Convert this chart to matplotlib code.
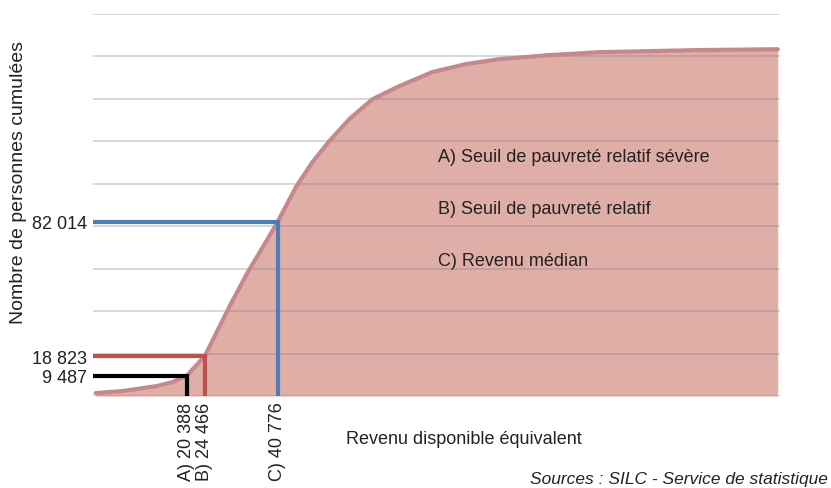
import matplotlib
matplotlib.use("Agg")
import matplotlib.pyplot as plt

plt.rcParams['font.family'] = ['Liberation Sans', 'DejaVu Sans']

# Data
income = [0, 6140, 13740, 17310, 19550, 20388, 24466, 27140, 30050, 34000, 38540,
          40776, 45010, 48580, 52390, 56860, 62000, 68030, 75400, 83000,
          90370, 101500, 112700, 135100, 152900]
persons = [1400, 2350, 4710, 6590, 8950, 9487, 18823, 30140, 42400, 58000, 73950,
           82014, 98900, 110200, 120100, 130500, 139800, 146000, 152600, 156400,
           158700, 160600, 162000, 163000, 163400]

thresholds_x = [20388, 24466, 40776]
thresholds_y = [9487, 18823, 82014]
threshold_labels_x = ["A) 20 388", "B) 24 466", "C) 40 776"]
threshold_labels_y = ["9 487", "18 823", "82 014"]
threshold_colors = ["#000000", "#c0504d", "#4a7ebb"]
legend_texts = ["A) Seuil de pauvreté relatif sévère",
                "B) Seuil de pauvreté relatif",
                "C) Revenu médian"]
grid_values = list(range(0, 180001, 20000))

fig = plt.figure(figsize=(8.31, 4.89), dpi=100)
ax = fig.add_axes([93/831, 1-397/489, (780-93)/831, (397-15)/489])

ax.set_xlim(-600, 153400)
ax.set_ylim(0, 180000)

ax.fill_between(income, 0, persons, color="#dfafa7", zorder=1, linewidth=0)
for g in grid_values:
    ax.axhline(g, color=(0.45, 0.45, 0.45), alpha=0.35, linewidth=1.1, zorder=2)
ax.plot(income, persons, color="#c8878a", linewidth=3, zorder=3,
        solid_capstyle='round', solid_joinstyle='round')

x0 = -600
for tx, ty, c in zip(thresholds_x, thresholds_y, threshold_colors):
    ax.plot([x0, tx, tx], [ty, ty, 0], color=c, linewidth=3, zorder=4,
            solid_joinstyle='miter')

for s in ax.spines.values():
    s.set_visible(False)
ax.set_xticks(thresholds_x)
ax.set_xticklabels(threshold_labels_x, rotation=90, fontsize=13, color="#222222")
ax.set_yticks(thresholds_y)
ax.set_yticklabels(threshold_labels_y, fontsize=13, color="#222222")
ax.tick_params(length=0, pad=4)

for i, t in enumerate(legend_texts):
    fig.text(438/831, 1 - (157 + 52.5*i)/489, t, fontsize=13, color="#222222",
             ha="left", va="center")

fig.text(464/831, 1 - 440/489, "Revenu disponible équivalent", fontsize=13,
         color="#222222", ha="center", va="center")
fig.text(19/831, 1 - 183/489, "Nombre de personnes cumulées", fontsize=14,
         color="#222222", ha="center", va="center", rotation=90)
fig.text(828/831, 1 - 480/489, "Sources : SILC - Service de statistique",
         fontsize=12.5, color="#222222", ha="right", va="center", style="italic")

fig.savefig("out.png", dpi=100)
